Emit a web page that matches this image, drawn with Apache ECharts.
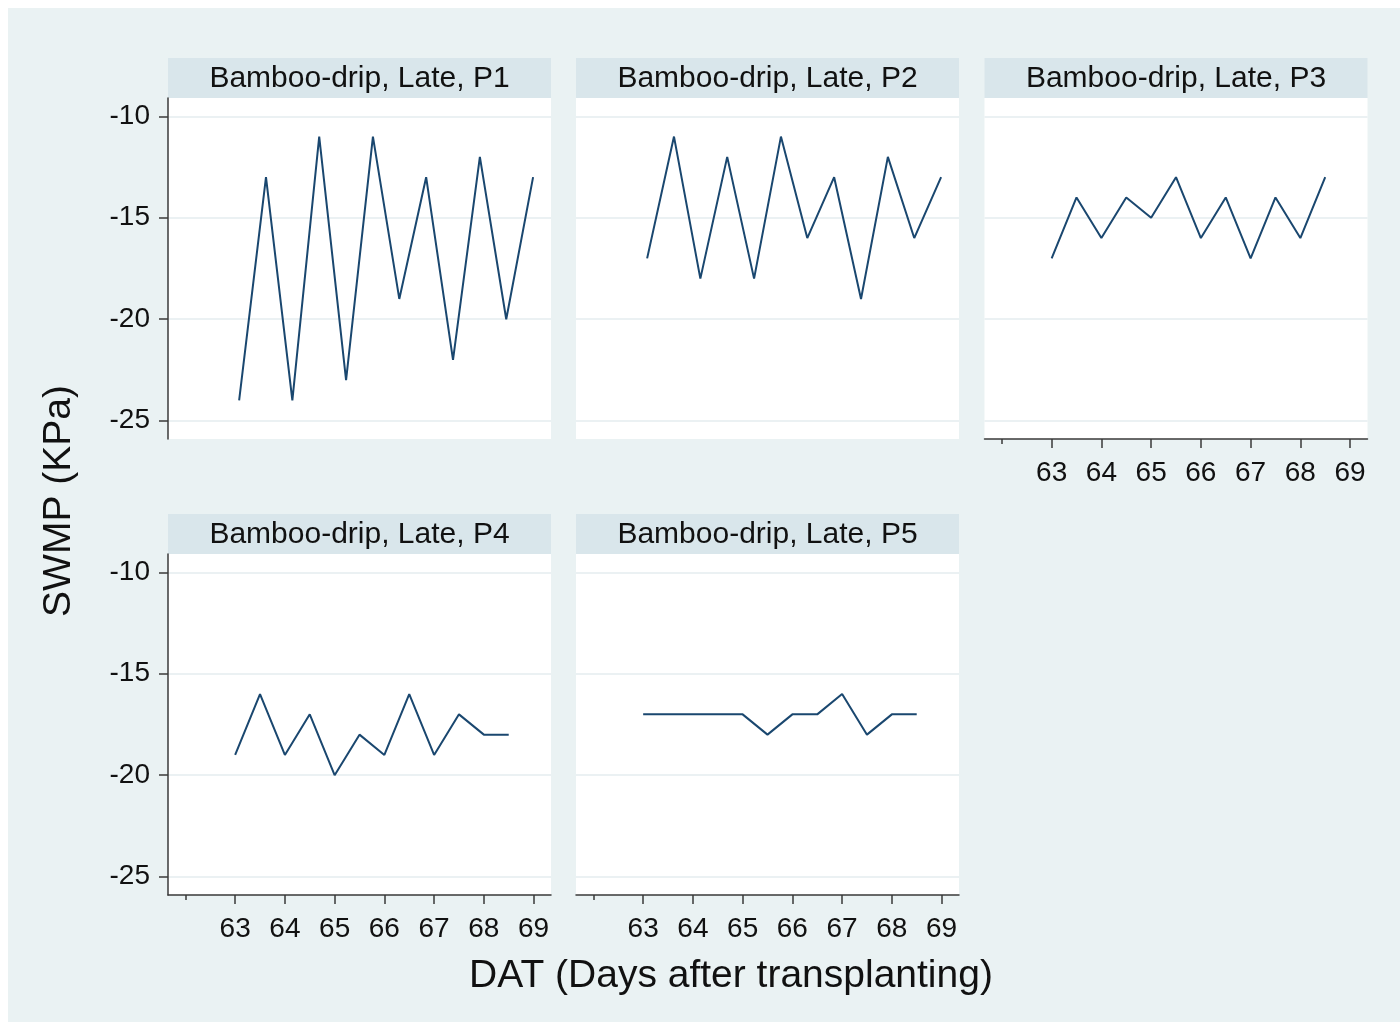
<!DOCTYPE html>
<html>
<head>
<meta charset="utf-8">
<title>SWMP, Bamboo-drip, Late</title>
<script src="https://cdn.jsdelivr.net/npm/echarts@6/dist/echarts.min.js"></script>
<style>
  html, body { margin: 0; padding: 0; background: #ffffff; }
  #wrap { position: relative; width: 1400px; height: 1027px; }
  #bg { position: absolute; left: 8px; top: 8px; width: 1392px; height: 1014px; background: #eaf2f3; }
  #chart { position: absolute; left: 0; top: 0; width: 1400px; height: 1027px; }
</style>
</head>
<body>
<div id="wrap"><div id="bg"></div><div id="chart"></div></div>
<script>
// Panel titles
const panelTitles = [
  'Bamboo-drip, Late, P1',
  'Bamboo-drip, Late, P2',
  'Bamboo-drip, Late, P3',
  'Bamboo-drip, Late, P4',
  'Bamboo-drip, Late, P5'
];

// Axis ticks
const dayTicks = [63, 64, 65, 66, 67, 68, 69];
const dayMinorTick = [62];
const swmpTicks = [-25, -20, -15, -10];

// Reading times (DAT)
const daysP1P2 = [63.08, 63.62, 64.15, 64.69, 65.23, 65.77, 66.30, 66.84, 67.38, 67.92, 68.45, 68.99];
const daysHalf = [63, 63.5, 64, 64.5, 65, 65.5, 66, 66.5, 67, 67.5, 68, 68.5];

// Soil water matric potential (KPa)
const swmpP1 = [-24, -13, -24, -11, -23, -11, -19, -13, -22, -12, -20, -13];
const swmpP2 = [-17, -11, -18, -12, -18, -11, -16, -13, -19, -12, -16, -13];
const swmpP3 = [-17, -14, -16, -14, -15, -13, -16, -14, -17, -14, -16, -13];
const swmpP4 = [-19, -16, -19, -17, -20, -18, -19, -16, -19, -17, -18, -18];
const swmpP5 = [-17, -17, -17, -17, -17, -18, -17, -17, -16, -18, -17, -17];

const panels = [
  { title: panelTitles[0], days: daysP1P2, values: swmpP1, row: 0, col: 0, xAxis: false, yAxis: true },
  { title: panelTitles[1], days: daysP1P2, values: swmpP2, row: 0, col: 1, xAxis: false, yAxis: false },
  { title: panelTitles[2], days: daysHalf, values: swmpP3, row: 0, col: 2, xAxis: true, yAxis: false },
  { title: panelTitles[3], days: daysHalf, values: swmpP4, row: 1, col: 0, xAxis: true, yAxis: true },
  { title: panelTitles[4], days: daysHalf, values: swmpP5, row: 1, col: 1, xAxis: true, yAxis: false }
];

// Layout
const colLeft = [168, 576, 984.5];
const colWidth = 383;
const stripTop = [58, 514];
const stripHeight = 40;
const plotHeight = 341;
const xRange = [61.65, 69.35];
const yRange = [-25.9, -9.1];

const FONT = "'Liberation Sans', Arial, sans-serif";
const INK = '#111111';
const AXIS = '#3a3a3a';
const LINE = '#1a476f';
const STRIP = '#d9e6eb';
const GRIDLINE = '#e4ecef';

const grids = [], xAxes = [], yAxes = [], series = [], graphics = [];

panels.forEach((p, i) => {
  const left = colLeft[p.col];
  const top = stripTop[p.row] + stripHeight;
  grids.push({
    left: left, top: top, width: colWidth, height: plotHeight,
    show: true, backgroundColor: '#ffffff', borderWidth: 0
  });

  // main day axis
  xAxes.push({
    type: 'value', gridIndex: i, position: 'bottom', min: xRange[0], max: xRange[1],
    axisLine: { show: p.xAxis, onZero: false, lineStyle: { color: AXIS, width: 1.5 } },
    axisTick: { show: p.xAxis, length: 9, customValues: dayTicks, lineStyle: { color: AXIS, width: 1.5 } },
    axisLabel: {
      show: p.xAxis, customValues: dayTicks, margin: 20,
      fontFamily: FONT, fontSize: 28, color: INK
    },
    splitLine: { show: false }
  });
  // short unlabelled tick at the left end of the day axis
  xAxes.push({
    type: 'value', gridIndex: i, position: 'bottom', min: xRange[0], max: xRange[1],
    axisLine: { show: false, onZero: false },
    axisTick: { show: p.xAxis, length: 5, customValues: dayMinorTick, lineStyle: { color: AXIS, width: 1.5 } },
    axisLabel: { show: false },
    splitLine: { show: false }
  });

  yAxes.push({
    type: 'value', gridIndex: i, position: 'left', min: yRange[0], max: yRange[1],
    axisLine: { show: p.yAxis, onZero: false, lineStyle: { color: AXIS, width: 1.5 } },
    axisTick: { show: p.yAxis, length: 9, customValues: swmpTicks, lineStyle: { color: AXIS, width: 1.5 } },
    axisLabel: {
      show: p.yAxis, customValues: swmpTicks, margin: 18,
      fontFamily: FONT, fontSize: 28, color: INK
    },
    splitLine: { show: true, lineStyle: { color: GRIDLINE, width: 1.5 } }
  });

  series.push({
    type: 'line',
    xAxisIndex: i * 2, yAxisIndex: i,
    data: p.days.map((d, k) => [d, p.values[k]]),
    showSymbol: false,
    lineStyle: { color: LINE, width: 2 },
    itemStyle: { color: LINE },
    animation: false
  });

  // panel strip
  graphics.push({
    type: 'rect', silent: true,
    shape: { x: left, y: stripTop[p.row], width: colWidth, height: stripHeight },
    style: { fill: STRIP }
  });
  graphics.push({
    type: 'text', silent: true,
    x: left + colWidth / 2, y: stripTop[p.row] + stripHeight / 2 + 1,
    style: {
      text: p.title, fill: INK, font: '30px ' + FONT,
      textAlign: 'center', textVerticalAlign: 'middle'
    }
  });
});

// axis titles
graphics.push({
  type: 'text', silent: true, x: 731, y: 976,
  style: {
    text: 'DAT (Days after transplanting)', fill: INK, font: '39px ' + FONT,
    textAlign: 'center', textVerticalAlign: 'middle'
  }
});
graphics.push({
  type: 'text', silent: true, x: 59, y: 501, rotation: Math.PI / 2,
  style: {
    text: 'SWMP (KPa)', fill: INK, font: '39px ' + FONT,
    textAlign: 'center', textVerticalAlign: 'middle'
  }
});

const chart = echarts.init(document.getElementById('chart'), null, { renderer: 'canvas' });
chart.setOption({
  backgroundColor: 'transparent',
  animation: false,
  grid: grids,
  xAxis: xAxes,
  yAxis: yAxes,
  series: series,
  graphic: graphics
});
</script>
</body>
</html>
